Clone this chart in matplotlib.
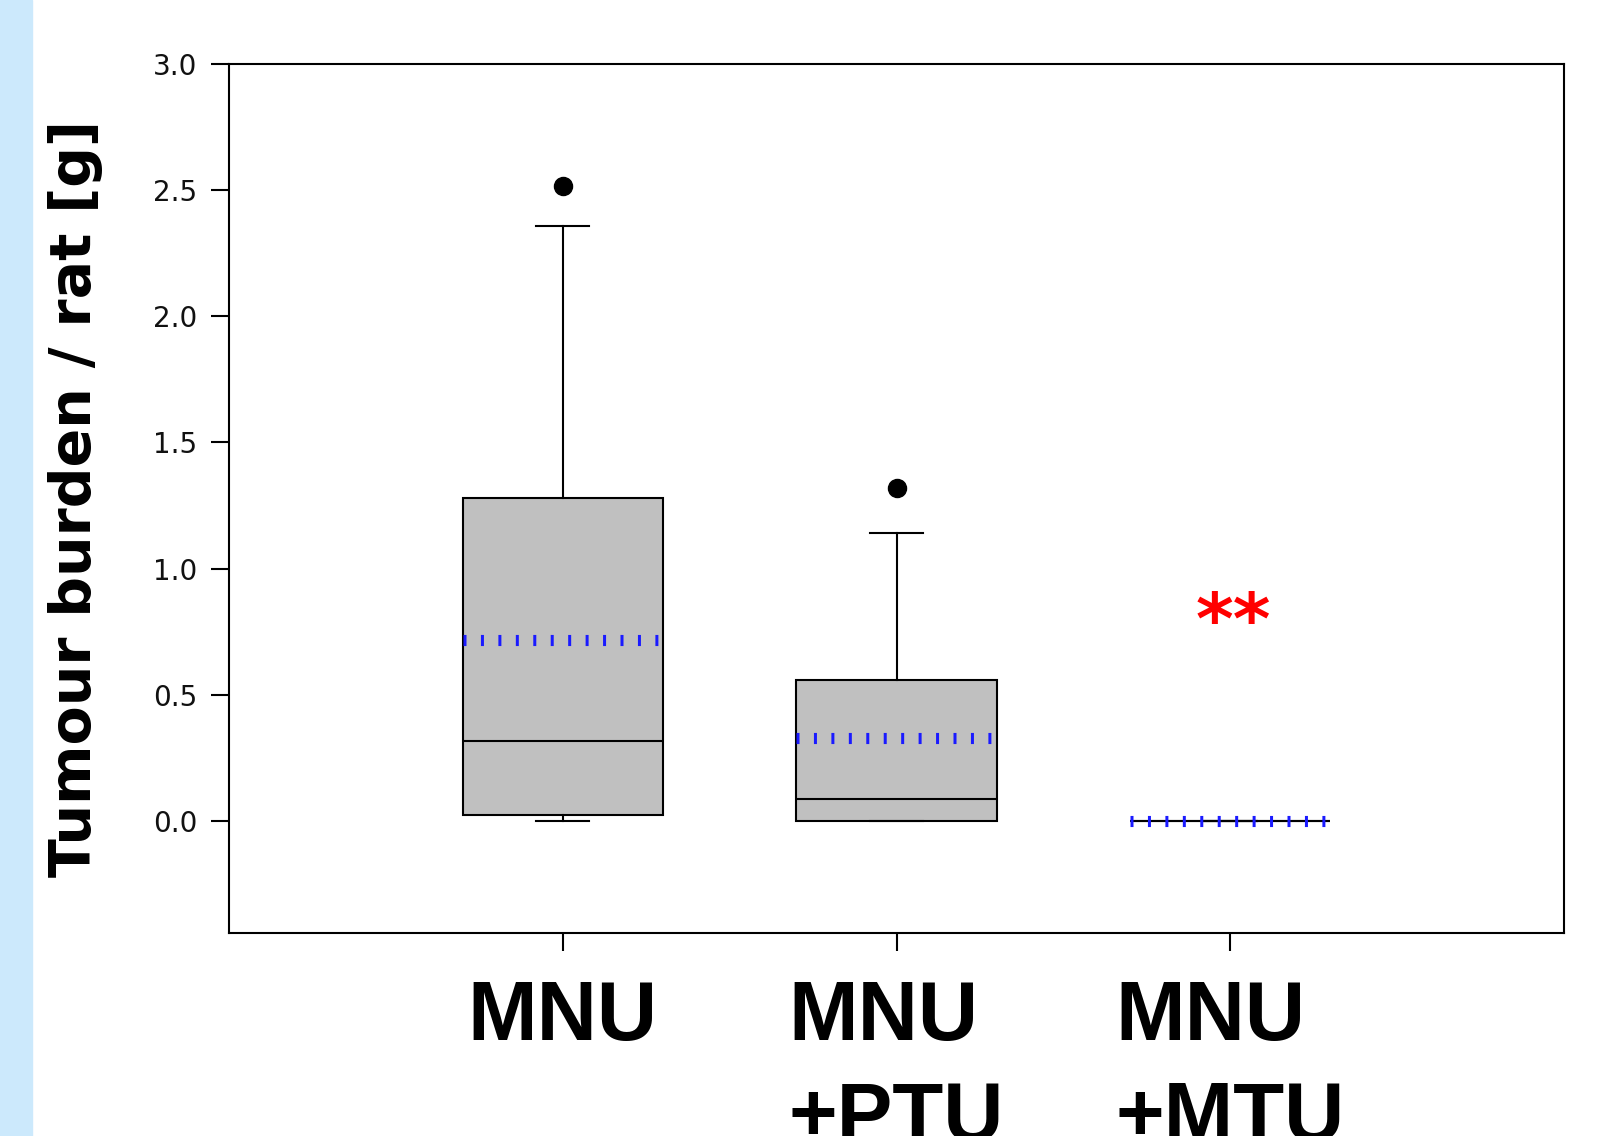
import matplotlib.pyplot as plt
import matplotlib.patches as mpatches

groups = ["MNU", "MNU\n+PTU", "MNU\n+MTU"]
q1 = [0.024, 0.0, 0.0]
med = [0.318, 0.086, 0.0]
q3 = [1.28, 0.558, 0.0]
wlo = [0.0, 0.0, 0.0]
whi = [2.356, 1.141, 0.0]
means = [0.717, 0.33, 0.0]
outliers = [[2.515], [1.32], []]
yticks = [0.0, 0.5, 1.0, 1.5, 2.0, 2.5, 3.0]

fig = plt.figure(figsize=(16.13, 11.36), dpi=100)
fig.patches.append(mpatches.Rectangle((0, 0), 32 / 1613, 1, transform=fig.transFigure,
                                      color="#cce9fc", zorder=0))
ax = fig.add_axes([229 / 1613, 1 - 933 / 1136, (1564 - 229) / 1613, (933 - 64) / 1136])

stats = []
for i in range(len(groups)):
    stats.append(dict(q1=q1[i], med=med[i], q3=q3[i], whislo=wlo[i], whishi=whi[i],
                      mean=means[i], fliers=outliers[i]))
pos = [1, 2, 3]
ax.bxp(stats, positions=pos, widths=0.6, patch_artist=True, showmeans=False,
       boxprops=dict(facecolor="#c0c0c0", edgecolor="black", linewidth=1.5),
       medianprops=dict(color="black", linewidth=1.5),
       whiskerprops=dict(color="black", linewidth=1.5),
       capprops=dict(color="black", linewidth=1.5),
       capwidths=0.16,
       flierprops=dict(marker="o", markerfacecolor="black", markeredgecolor="black",
                       markersize=13))
# mean as blue dotted line
for p, m in zip(pos, means):
    ax.plot([p - 0.3, p + 0.3], [m, m], color="#1a1aff", linewidth=8,
            dashes=(0.27, 1.3), solid_capstyle="butt", dash_capstyle="butt", zorder=5)

ax.text(3.01, 0.78, "**", color="red", fontsize=52, fontweight="bold",
        ha="center", va="center")

ax.set_xlim(0, 4)
ax.set_ylim(-0.444, 3.0)
ax.set_yticks(yticks)
ax.set_yticklabels(["%.1f" % v for v in yticks], fontsize=20, color="#111111")
ax.set_xticks(pos)
ax.set_xticklabels(groups, fontsize=60, fontweight="bold", family="Liberation Sans",
                   linespacing=1.38, multialignment="left", va="top")
ax.tick_params(axis="y", length=13, width=1.5, pad=10)
ax.tick_params(axis="x", length=13, width=1.5, pad=20)
for s in ax.spines.values():
    s.set_linewidth(1.5)
ax.set_ylabel("Tumour burden / rat [g]", fontsize=41, fontweight="bold",
              family="DejaVu Sans", labelpad=36)

fig.savefig("out.png", dpi=100)
